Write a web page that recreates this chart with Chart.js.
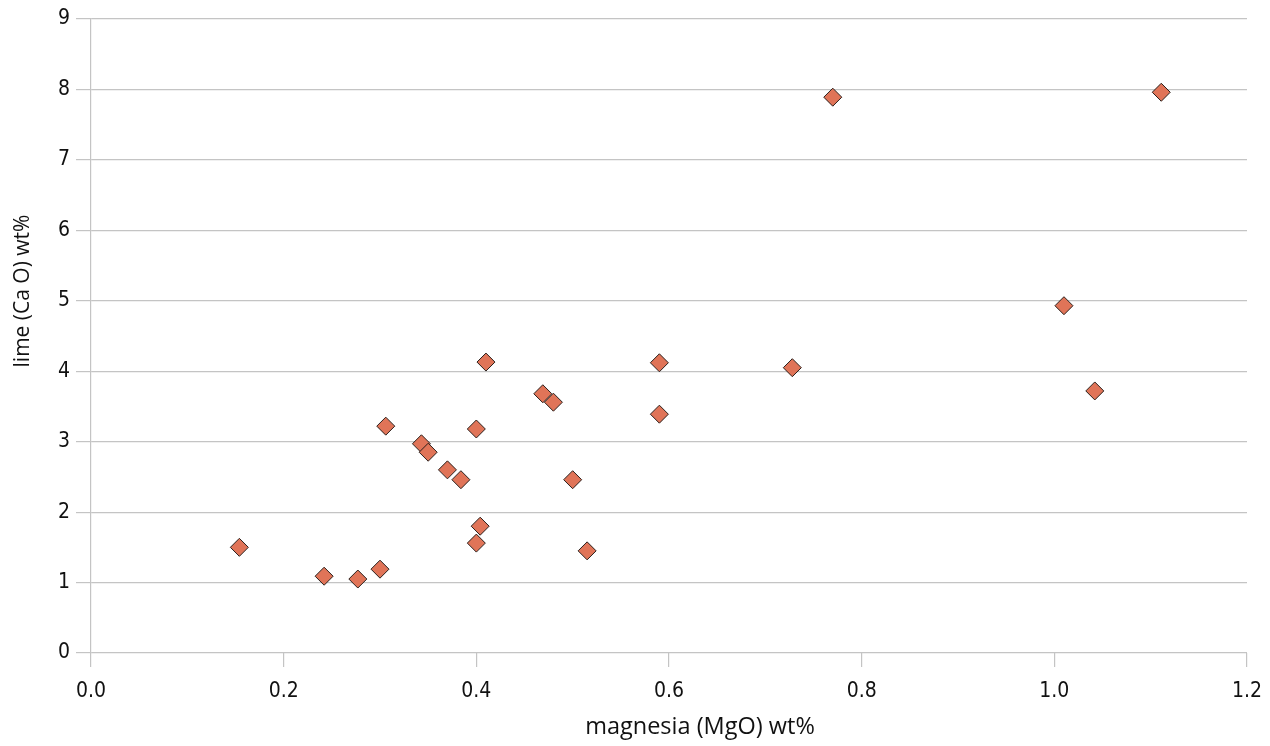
<!DOCTYPE html>
<html>
<head>
<meta charset="utf-8">
<script src="https://cdn.jsdelivr.net/npm/chart.js@4.4.1/dist/chart.umd.min.js"></script>
<style>
  html, body { margin: 0; padding: 0; background: #fff; }
  #wrap { width: 1270px; height: 746px; }
</style>
</head>
<body>
<div id="wrap"><canvas id="chart" width="1270" height="746"></canvas></div>
<script>
// MgO vs CaO (wt%)
const magnesia = [0.154, 0.242, 0.277, 0.300, 0.306, 0.343, 0.350, 0.370, 0.384, 0.400,
  0.400, 0.404, 0.410, 0.469, 0.480, 0.500, 0.515, 0.590, 0.590, 0.728, 0.770, 1.010, 1.042, 1.111];
const lime = [1.50, 1.09, 1.05, 1.19, 3.22, 2.97, 2.85, 2.60, 2.46, 3.18,
  1.56, 1.80, 4.13, 3.68, 3.56, 2.46, 1.45, 4.12, 3.39, 4.05, 7.89, 4.93, 3.72, 7.96];
const xTicks = [0, 0.2, 0.4, 0.6, 0.8, 1.0, 1.2];
const yTicks = [0, 1, 2, 3, 4, 5, 6, 7, 8, 9];
const xTitle = "magnesia (MgO) wt%";
const yTitle = "lime (Ca O) wt%";

const tickFont = "'Liberation Sans Narrow', 'DejaVu Sans Condensed', sans-serif";
const titleFont = "'Open Sans', 'Noto Sans', sans-serif";
const gridColor = "#c4c4c4";

const points = magnesia.map((m, i) => ({ x: m, y: lime[i] }));

// axis titles are off-centre in the original, so draw them by hand
const titlesPlugin = {
  id: "axisTitles",
  afterDraw(chart) {
    const ctx = chart.ctx;
    ctx.save();
    ctx.fillStyle = "#111";
    ctx.textAlign = "center";
    ctx.textBaseline = "middle";
    ctx.font = "23.5px " + titleFont;
    ctx.fillText(xTitle, 700, 727);
    ctx.translate(23, 291);
    ctx.rotate(-Math.PI / 2);
    ctx.font = "21px " + titleFont;
    ctx.fillText(yTitle, 0, 0);
    ctx.restore();
  }
};

new Chart(document.getElementById("chart"), {
  type: "scatter",
  data: {
    datasets: [{
      data: points,
      pointStyle: "rectRot",
      pointRadius: 9,
      pointHoverRadius: 9,
      backgroundColor: "#e07458",
      borderColor: "#2a201c",
      borderWidth: 1
    }]
  },
  plugins: [titlesPlugin],
  options: {
    responsive: false,
    animation: false,
    layout: { padding: { top: 19, right: 23, left: 0, bottom: 0 } },
    plugins: { legend: { display: false }, tooltip: { enabled: false } },
    scales: {
      x: {
        type: "linear",
        min: 0, max: 1.2,
        afterBuildTicks: s => { s.ticks = xTicks.map(v => ({ value: v })); },
        afterFit: s => { s.height = 93; s.paddingRight = 0; s.paddingLeft = 0; },
        grid: { drawOnChartArea: false, drawTicks: true, tickLength: 14, color: gridColor, lineWidth: 1.2 },
        border: { display: false },
        ticks: {
          padding: 12,
          color: "#111",
          font: { family: tickFont, size: 21 },
          callback: v => v.toFixed(1)
        },
        title: { display: false }
      },
      y: {
        type: "linear",
        min: 0, max: 9,
        afterBuildTicks: s => { s.ticks = yTicks.map(v => ({ value: v })); },
        afterFit: s => { s.width = 91; },
        grid: { drawTicks: true, tickLength: 15, color: gridColor, lineWidth: 1.2 },
        border: { display: true, color: gridColor, width: 1.2 },
        ticks: {
          padding: 6,
          color: "#111",
          font: { family: tickFont, size: 21 }
        },
        title: { display: false }
      }
    }
  }
});
</script>
</body>
</html>
